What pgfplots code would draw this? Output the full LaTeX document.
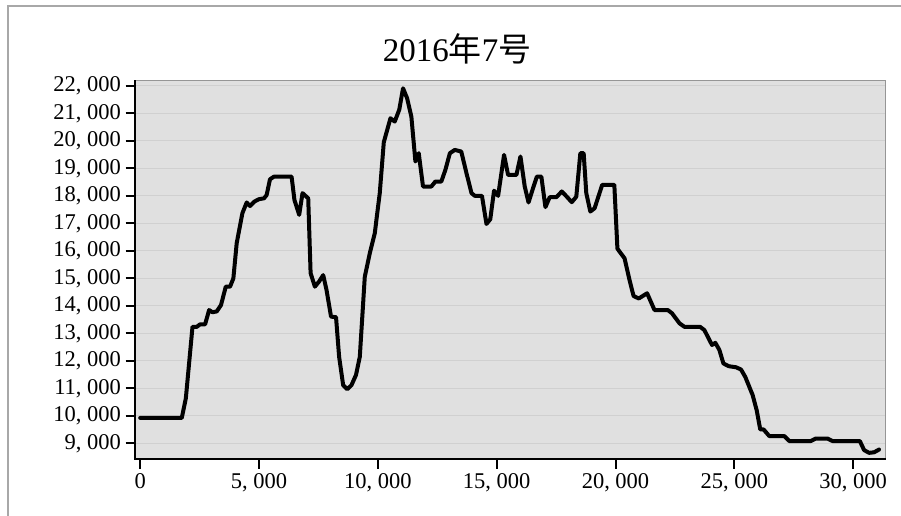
\documentclass[border=0pt]{standalone}
\usepackage{fontspec}
\setmainfont{Liberation Serif}
\newfontfamily\cjk{Noto Sans CJK SC}
\usepackage{pgfplots}
\pgfplotsset{compat=1.18}
\definecolor{bgc}{RGB}{224,224,224}
\definecolor{gridc}{RGB}{208,208,208}
\definecolor{framec}{RGB}{168,168,168}
\definecolor{boxc}{RGB}{150,150,150}
\begin{document}
\begin{tikzpicture}
\useasboundingbox (0,0) rectangle (901pt,516pt);
\fill[white] (0,0) rectangle (901pt,516pt);
\draw[framec, line width=2pt] (8pt,0) -- (8pt,510pt) -- (901pt,510pt);
\node[font=\fontsize{33}{36}\selectfont, inner sep=0pt] at (457pt,467pt) {2016{\cjk 年}7{\cjk 号}};
\begin{axis}[
  at={(134.5pt,56.5pt)}, anchor=south west,
  scale only axis, width=751pt, height=379pt,
  xmin=-240, xmax=31361, ymin=8418, ymax=22193,
  xtick={0,5000,...,30000},
  ytick={9000,10000,...,22000},
  scaled ticks=false,
  /pgf/number format/.cd, 1000 sep={,\ }, assume math mode=true, /pgfplots/.cd,
  ticklabel style={font=\fontsize{22.5}{25}\selectfont},
  xticklabel style={yshift=-2pt},
  yticklabel style={xshift=-1pt},
  tick align=outside,
  xtick pos=bottom, ytick pos=left,
  major tick length=9pt,
  tick style={black, line width=2pt},
  axis background/.style={fill=bgc},
  axis line style={boxc, line width=1.5pt},
  ymajorgrids, major grid style={gridc, line width=1pt},
  clip=false,
]
\addplot[black, line width=4pt, line join=round, line cap=round, no markers] table {
x y
0 9930
1750 9930
1920 10640
2200 13240
2380 13240
2520 13330
2730 13330
2900 13850
3040 13770
3220 13800
3400 14030
3600 14700
3780 14700
3920 15000
4060 16280
4300 17370
4480 17760
4620 17630
4800 17790
5000 17880
5210 17910
5320 18030
5460 18600
5630 18700
6370 18700
6490 17850
6690 17310
6830 18100
7070 17910
7170 15190
7350 14700
7530 14890
7700 15120
7840 14580
8030 13610
8240 13590
8370 12150
8540 11120
8710 10970
8890 11120
9080 11490
9240 12150
9450 15060
9660 15910
9870 16640
10080 18100
10250 19950
10530 20820
10710 20700
10900 21130
11060 21910
11230 21550
11410 20880
11580 19250
11720 19550
11900 18340
12250 18340
12420 18520
12670 18520
12840 18940
13030 19550
13240 19670
13510 19610
13730 18820
13940 18100
14080 18000
14380 18000
14570 16980
14730 17150
14890 18190
15060 18000
15310 19490
15480 18760
15830 18760
16000 19430
16180 18340
16340 17760
16530 18280
16690 18700
16880 18700
17050 17590
17230 17950
17510 17950
17740 18160
17950 17970
18160 17770
18350 17970
18520 19550
18660 19550
18770 18100
18940 17430
19120 17550
19440 18400
19950 18400
20080 16080
20380 15730
20590 14940
20760 14360
20980 14270
21330 14460
21640 13850
22200 13850
22380 13730
22690 13370
22900 13240
23560 13240
23740 13120
24060 12580
24200 12660
24370 12400
24540 11910
24760 11810
25070 11770
25280 11690
25460 11420
25770 10760
25940 10210
26090 9510
26230 9510
26470 9270
27100 9270
27310 9090
28220 9090
28430 9180
28920 9180
29130 9090
30280 9090
30460 8760
30670 8660
30880 8680
31090 8780
};
\draw[black, line width=2pt] (rel axis cs:0,1) -- (rel axis cs:0,0) -- (rel axis cs:1,0);
\end{axis}
\end{tikzpicture}
\end{document}
